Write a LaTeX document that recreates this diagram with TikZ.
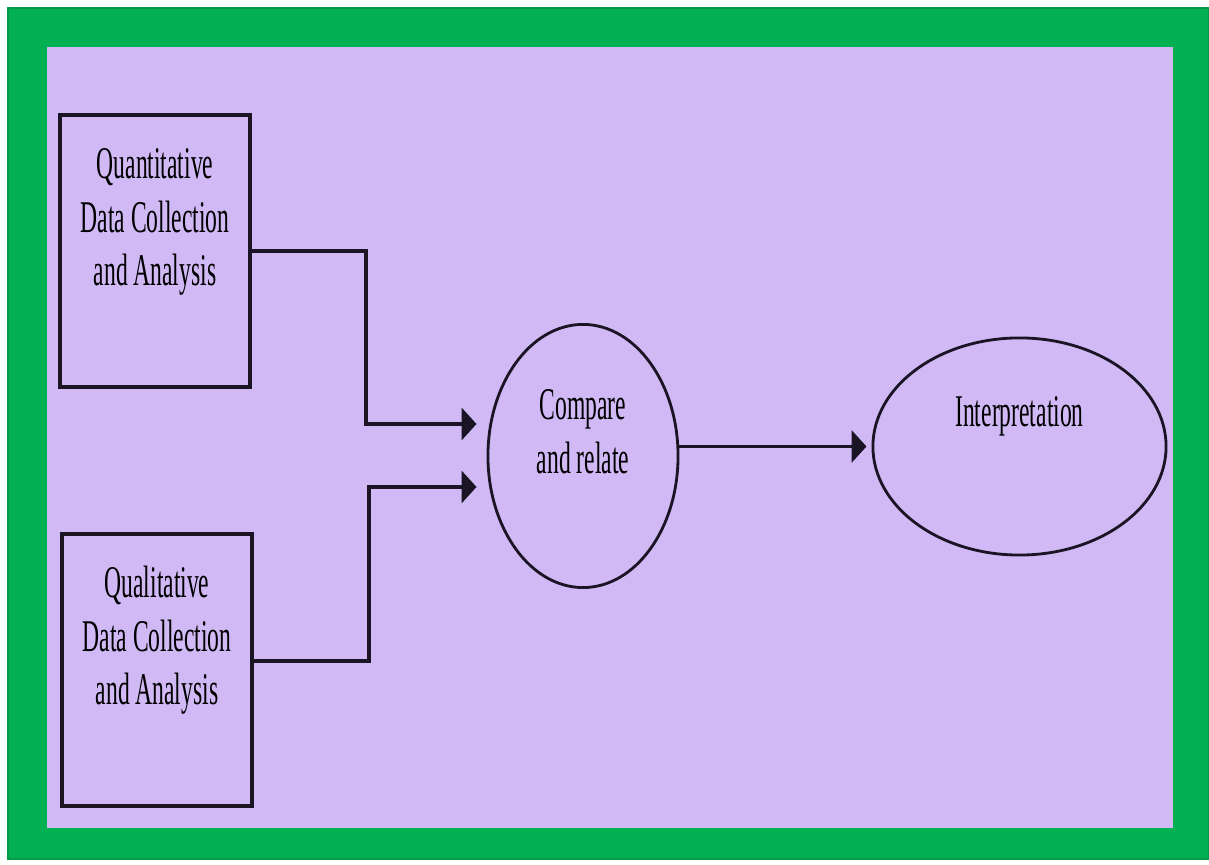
\documentclass[tikz,border=0pt]{standalone}
\usepackage{fontspec}
\setmainfont{Liberation Serif}
\usepackage{graphicx}
\usetikzlibrary{arrows.meta, positioning, shapes.geometric, calc}
\definecolor{Ink}{HTML}{1A1424}
\definecolor{Frame}{HTML}{04B152}
\definecolor{FrameDark}{HTML}{049A47}
\definecolor{Lilac}{HTML}{D0B9F5}
\newcommand{\tallcell}[2]{\raisebox{#1}[0pt][0pt]{\scalebox{0.52}[1]{\begin{tabular}{@{}c@{}}#2\end{tabular}}}}

\begin{document}
\begin{tikzpicture}[
  x=0.01cm, y=-0.01cm,
  font=\fontsize{12.9}{15.3}\selectfont,
  databox/.style={draw=Ink, line width=1pt, minimum width=1.9cm, minimum height=2.72cm, inner sep=0pt},
  bubble/.style={ellipse, draw=Ink, line width=0.8pt, inner sep=0pt},
  flow/.style={-{Triangle[length=0.15cm, width=0.32cm]}, line width=1.1pt, draw=Ink}
]
\useasboundingbox (0,0) rectangle (1209,865);
% frame and panel
\fill[white] (0,0) rectangle (1209,865);
\fill[Frame] (7,7) rectangle (1209,860);
\draw[FrameDark, line width=0.5pt] (8,8) rectangle (1209,859);
\fill[Lilac] (47,47) rectangle (1173,828);

\node[databox] (quant) at (155,251) {\tallcell{0.19cm}{Quantitative\\Data Collection\\and Analysis}};
\node[databox] (qual) at (157,670) {\tallcell{0.19cm}{Qualitative\\Data Collection\\and Analysis}};
\node[bubble, minimum width=1.9cm, minimum height=2.63cm] (cmp) at (583,456) {\tallcell{0.10cm}{Compare\\and relate}};
\node[bubble, minimum width=2.93cm, minimum height=2.17cm] (interp) at (1019.5,446.5) {\tallcell{0.2cm}{Interpretation}};

\draw[flow] (quant.east) -- ++(114,0) |- ($(cmp.west)+(-10,-32)$);
\draw[flow] ($(qual.east)+(0,-9)$) -- ++(115,0) |- ($(cmp.west)+(-10,31)$);
\draw[flow] (interp.west -| cmp.east) -- ($(interp.west)+(-5,0)$);
\end{tikzpicture}
\end{document}
